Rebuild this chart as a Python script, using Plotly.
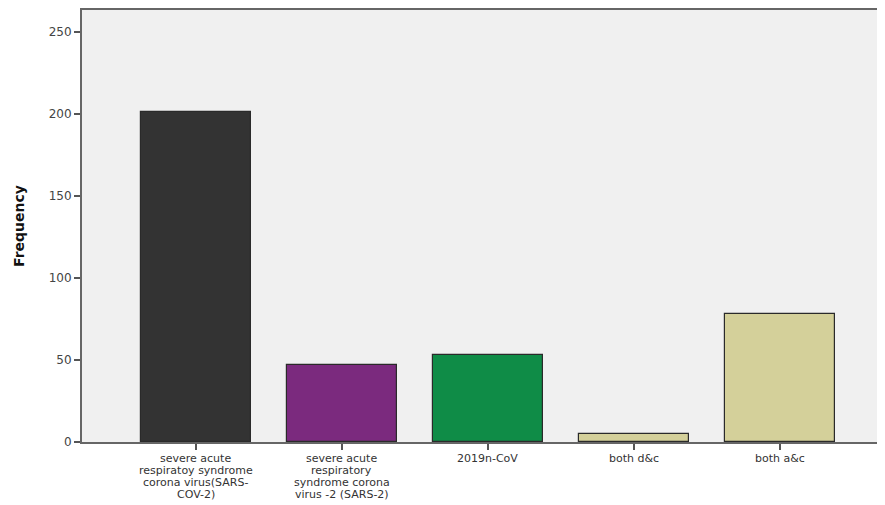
import plotly.graph_objects as go

categories = [
    "severe acute<br>respiratoy syndrome<br>corona virus(SARS-<br>COV-2)",
    "severe acute<br>respiratory<br>syndrome corona<br>virus -2 (SARS-2)",
    "2019n-CoV",
    "both d&c",
    "both a&c",
]
frequency = [201, 47, 53, 5, 78]
bar_colors = ["#333333", "#7b2a7e", "#0f8c47", "#d4d09a", "#d4d09a"]
y_ticks = [0, 50, 100, 150, 200, 250]

positions = list(range(len(categories)))

fig = go.Figure(go.Bar(
    x=positions,
    y=frequency,
    width=0.753,
    marker=dict(color=bar_colors, line=dict(color="#2a2a2a", width=1.2)),
))

annotations = []
for i, label in zip(positions, categories):
    for k, line in enumerate(label.split("<br>")):
        annotations.append(dict(
            text=line, x=i, y=0, xref="x", yref="paper",
            xanchor="center", yanchor="middle", yshift=-(16 + 12 * k),
            showarrow=False,
            font=dict(family="DejaVu Sans, sans-serif", size=11, color="#333333"),
        ))

annotations.append(dict(
    text="<b>Frequency</b>", x=0, y=0.5, xref="paper", yref="paper",
    xanchor="center", yanchor="middle", xshift=-63, textangle=-90,
    showarrow=False,
    font=dict(family="DejaVu Sans, sans-serif", size=14, color="#111111"),
))

fig.update_layout(
    width=877, height=497,
    margin=dict(l=74, r=0, t=2, b=63),
    paper_bgcolor="white",
    plot_bgcolor="#f0f0f0",
    font=dict(family="DejaVu Sans, sans-serif", size=12, color="#333333"),
    showlegend=False,
    bargap=0,
    xaxis=dict(
        range=[-0.78, 4.72],
        tickvals=positions,
        showticklabels=False,
        ticks="outside", ticklen=6, tickcolor="#555555", tickwidth=1.5,
        showline=True, linecolor="#666666", linewidth=2, mirror=True,
        showgrid=False, zeroline=False, automargin=False,
    ),
    yaxis=dict(
        range=[0, 263.4],
        tickvals=y_ticks,
        ticks="outside", ticklen=6, tickcolor="#555555", tickwidth=1.5,
        showline=True, linecolor="#666666", linewidth=2,
        showgrid=False, zeroline=False, automargin=False,
        tickfont=dict(family="DejaVu Sans, sans-serif", size=12, color="#444444"),
    ),
    annotations=annotations,
)

fig.write_html("out.html")
